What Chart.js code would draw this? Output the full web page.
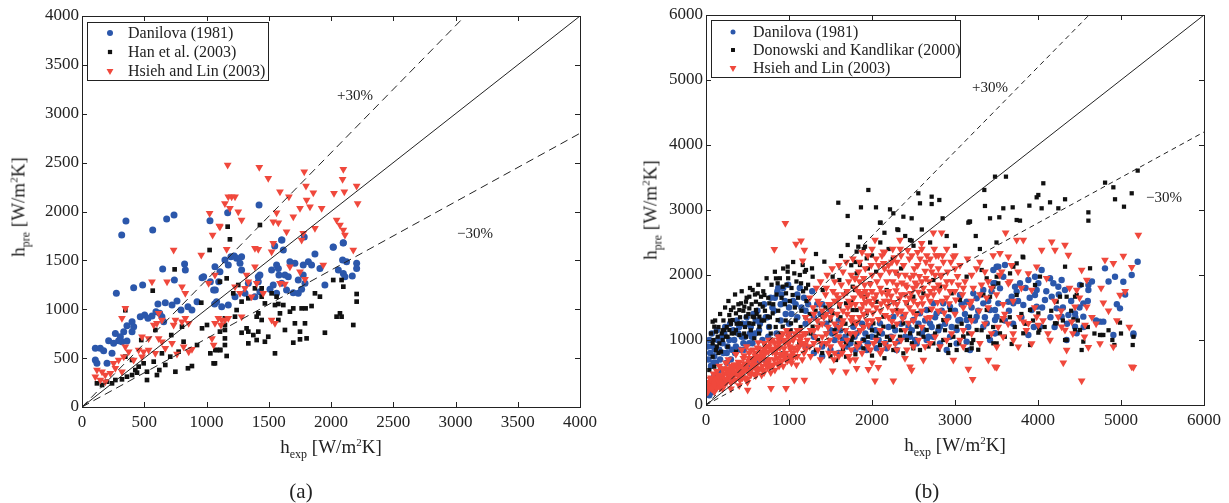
<!DOCTYPE html>
<html><head><meta charset="utf-8">
<script src="https://cdn.jsdelivr.net/npm/chart.js@4/dist/chart.umd.min.js"></script>
<style>
html,body{margin:0;padding:0;background:#fff;}
body{width:1229px;height:503px;position:relative;overflow:hidden;font-family:'Liberation Serif','Times New Roman',serif;color:#222;}
canvas{position:absolute;top:0;}
#ca{left:0;} #cb{left:620px;}
.t{position:absolute;white-space:nowrap;font-size:19px;line-height:1;transform:translate(-50%,-50%);}
.t.rot{transform:translate(-50%,-50%) rotate(-90deg);}
.t sub{font-size:12px;vertical-align:-5px;}
.t sup{font-size:11px;vertical-align:7px;}
.cap{position:absolute;font-size:21px;line-height:1;transform:translate(-50%,-50%);}
</style></head>
<body>
<canvas id="ca" width="610" height="440"></canvas>
<canvas id="cb" width="609" height="440"></canvas>
<div class="t rot" style="left:20px;top:207px">h<sub>pre</sub> [W/m<sup>2</sup>K]</div>
<div class="t" style="left:331px;top:448px">h<sub>exp</sub> [W/m<sup>2</sup>K]</div>
<div class="t rot" style="left:652px;top:210px">h<sub>pre</sub> [W/m<sup>2</sup>K]</div>
<div class="t" style="left:955px;top:446px">h<sub>exp</sub> [W/m<sup>2</sup>K]</div>
<div class="cap" style="left:301px;top:491px">(a)</div>
<div class="cap" style="left:927px;top:491px">(b)</div>
<script>
// ---------- Panel (a) data ----------
const labelsA = ['Danilova (1981)', 'Han et al. (2003)', 'Hsieh and Lin (2003)'];
const danilovaA = [[319,1760],[353,1903],[568,1811],[680,1923],[739,1964],[1028,1906],[1170,1988],[1422,2066],[1606,1708],[1785,1739],[2098,1678],[2018,1637],[1548,1647],
[824,1463],[830,1401],[648,1412],[742,1299],[964,1323],[1031,1282],[415,1221],[487,1248],[276,1163],[610,1054],[669,1067],[723,1043],[763,1084],[795,992],[851,1026],[883,992],[924,1078],[1065,1054],[1071,1197],[1098,1282],[468,924],[503,941],[530,907],[562,931],[594,975],[624,958],[642,924],[656,873],[402,873],[361,832],[415,822],[335,771],[402,771],[268,753],[308,719],[321,668],[294,678],[361,675],[214,678],[254,651],[107,600],[147,600],[174,576],[107,481],[120,447],[241,549],[201,447],[977,1333],[1057,1197],
[1196,1538],[1223,1545],[1242,1521],[1282,1538],[1269,1470],[1148,1504],[1175,1453],[1108,1384],[1068,1436],[1282,1401],[1416,1333],[1429,1350],[1416,1282],[1523,1401],[1563,1453],[1577,1418],[1603,1708],[1617,1606],[1670,1487],[1710,1470],[1777,1453],[1818,1487],[1844,1453],[1871,1565],[1911,1418],[1582,1350],[1630,1350],[1657,1333],[1536,1248],[1603,1265],[1643,1197],[1563,1163],[1510,1204],[1737,1299],[1777,1350],[1791,1265],[1697,1170],[1737,1163],[1764,1204],[1951,1248],[2018,1633],[2099,1681],[2093,1504],[2125,1487],[2059,1401],[2099,1367],[2112,1333],[2206,1470],[2206,1418],[2171,1340],[1429,1180],[1389,1129],[1336,1265],[1309,1163],[1229,1129],[1175,1043],[1122,1026],[1081,1078]];
const hanA = [[1025,1606],[744,1408],[568,1190],[348,990],[958,1067],[1004,839],[803,822],[717,736],[816,668],[924,634],[1071,583],[1031,549],[1111,583],[1057,447],[851,396],[883,419],[669,430],[621,378],[576,464],[522,361],[495,447],[455,413],[428,378],[442,351],[402,327],[361,310],[321,283],[268,276],[241,242],[201,259],[161,225],[120,242],[522,276],[602,327],[750,361],[709,515],[642,549],[776,566],[589,788],[476,685],[402,481],[348,515],[964,805],
[1170,1845],[1188,1715],[1429,1862],[1162,1316],[1108,1282],[1255,1248],[1215,1163],[1282,1078],[1336,1112],[1389,1214],[1443,1129],[1523,1163],[1577,1054],[1617,1043],[1697,1009],[1764,1009],[1796,1009],[1844,1033],[1871,1163],[1911,1129],[2018,1299],[2085,1299],[2099,1231],[2206,1156],[2206,1078],[2072,958],[2085,924],[2179,839],[2045,924],[1951,760],[1670,975],[1590,958],[1577,890],[1710,856],[1791,856],[1630,788],[1751,771],[1804,702],[1751,692],[1697,658],[1550,549],[1496,719],[1469,668],[1416,771],[1403,685],[1376,736],[1336,651],[1336,771],[1322,805],[1282,760],[1443,890],[1416,958],[1403,924],[1242,992],[1229,924],[1148,907],[1148,839],[1108,771],[1148,788],[1148,702],[1148,634],[1108,583],[1081,583],[1162,522],[1068,447],[1443,1214],[1550,1043],[1563,1129],[1469,1060]];
const hsiehA = [[1170,2476],[1424,2452],[1496,2339],[1785,2407],[2099,2431],[2093,2329],[2206,2261],[1590,2203],[1662,2152],[1799,2261],[1858,2193],[1804,2118],[1751,2032],[1831,2049],[1925,2032],[2024,2186],[2107,2203],[2214,2083],[1563,1988],[1175,2152],[1202,2152],[1229,2152],[1148,2083],[1188,2032],[1255,1998],[1282,1913],[1108,1845],[1536,1896],[1577,1886],[1643,1794],[1697,1947],[1777,1777],[1764,1708],[1871,1828],[2045,1913],[2072,1862],[2099,1811],[2112,1760],[2179,1606],[1162,1613],[1389,1623],[1416,1613],[1523,1589],[1536,1674],[1938,1453],[1389,1436],[1670,1436],[1751,1384],[1590,1265],[1630,1258],[1791,1306],[1403,1265],[1336,1282],[1309,1214],[1322,1350],[1229,1231],[1269,1163],[1068,1350],[1095,907],[1122,890],[1148,890],[1175,907],[1282,924],[1523,890],[1550,856],[1456,1163],[1362,1129],[1116,839],[1068,856],
[1025,1981],[1103,1852],[1049,1759],[736,1606],[958,1555],[562,1282],[683,1282],[803,1231],[830,1163],[348,1009],[321,907],[1017,1265],[616,958],[642,890],[750,890],[803,873],[830,907],[857,856],[736,839],[602,856],[576,839],[482,719],[535,702],[616,702],[642,668],[455,583],[375,566],[348,617],[415,481],[482,515],[535,583],[335,515],[294,481],[254,447],[268,396],[321,361],[228,344],[187,327],[161,361],[120,378],[107,310],[147,276],[187,259],[723,651],[857,566],[883,590],[816,617],[1044,702],[1057,634],[589,549],[669,600],[763,542],[495,566]];
const ticksA = {min: 0, max: 4000, step: 500};

// ---------- Panel (b) data ----------
const labelsB = ['Danilova (1981)', 'Donowski and Kandlikar (2000)', 'Hsieh and Lin (2003)'];
const danilovaB = [[30,700],[50,800],[60,600],[80,900],[100,750],[120,650],[140,1000],[160,850],[180,550],[200,950],[220,1100],[250,800],[280,1000],[300,700],[330,1150],[360,900],[400,1200],[430,1050],[460,850],[500,1250],[530,1100],[560,950],[600,1300],[640,1150],[680,1000],[720,1350],[760,1200],[800,1500],[830,1650],[860,1750],[900,1550],[930,1800],[960,1400],[1000,1250],[1050,1600],[1100,1700],[1150,1500],[1200,1450],[1100,1350],[1000,1500],[900,1300],[850,1100],[750,1050],[650,1250],[550,1050],[450,950],[350,800],[250,650],[150,500],[100,450],[60,350],[30,250],[40,150],[80,200],[120,320],[200,400],[300,450],[400,550],[500,600],[600,650],[700,700],[900,1000],[1000,1100],[1200,1250],[1300,1350],[1400,1550],[1500,1450],[1300,1050],[1400,900],[1500,1150],[1600,1300],
[3602,2154],[3502,2128],[3482,1872],[3542,1795],[3723,1820],[3783,1872],[3743,1743],[3683,1666],[3643,1589],[3703,1564],[3823,1538],[3884,1923],[3964,1974],[4044,2077],[4004,1872],[3964,1692],[3924,1461],[3984,1513],[4024,1205],[3884,1077],[4145,1949],[4185,1872],[4245,1820],[4285,1923],[4325,1769],[4165,1666],[4225,1487],[4285,1359],[4366,1384],[4446,1410],[4546,1564],[4607,1769],[4607,1846],[4506,1846],[4345,1000],[4466,1103],[4446,1205],[4546,1359],[4747,1282],[4787,1282],[4807,2102],[4928,1974],[5028,1897],[5129,1999],[5201,2205],[4988,1487],[4908,1077],[5149,1077],[3984,1769],[4084,1615],[3582,1974],[3522,1564],[3482,1307],[3482,1103],[3482,1461],
[3060,1692],[3140,1589],[3261,1641],[3341,1564],[3422,1461],[3502,1359],[3482,1102],[3382,1256],[3261,1359],[3140,1307],[3020,1154],[2940,1051],[2940,1513],[2859,1564],[2779,1410],[2699,1256],[2619,1154],[2659,1000],[2538,948],[2458,1051],[2739,1051],[2819,948],[3020,948],[3140,974],[3181,846],[2900,846],[2297,846],[2177,872],[2056,872],[1936,846],[1896,1000],[1815,1102],[1775,1205],[1976,1205],[2096,1256],[2257,1359],[2378,1359],[2498,1307],[2578,1410],[2659,1461],[2739,1564],[3221,1718],[3341,1769],[3462,1872],[3522,2128],[3462,2077],[3060,1307],[2819,1205],[3341,1205],[3422,1000],
[1300,800],[1400,750],[1500,850],[1600,800],[1700,900],[1800,850],[1200,900],[1550,1000],[1650,1000],
[20,900],[40,1000],[70,1100],[90,650],[110,850],[130,1150],[170,700],[190,1050],[210,800],[230,1200],[260,900],[290,1250],[310,850],[340,1000],[370,1300],[390,1100],[410,850],[440,1250],[470,1050],[490,1350],[520,950],[540,1200],[570,1400],[590,1100],[620,1450],[660,1300],[700,1550],[740,1350],[780,1650],[820,1450],[870,1800],[910,1700],[950,1600],[990,1850],[1030,1400],[1080,1550],[1130,1800],[1180,1650],[1230,1550],[1280,1750],[1340,1550],[1380,1400],
[1450,1250],[1520,1100],[1580,1200],[1620,1150],[1680,1050],[1740,950],[1790,1050],[1850,900],[1880,1250],[1920,1100],[1950,950],[2000,1050],[2040,1150],[2080,1000],[2120,1100],[2160,950],[2200,1200],[2230,1050],[2280,1150],[2320,980],[2350,1250],[2400,1050],[2440,1200],[2480,1150],[2520,1000],[2560,1250],[2600,1100],[2640,1300],[2680,1050],[2720,1200],[2760,1350],[2800,1150],[2840,1450],[2880,1250],[2920,1350],[2960,1200],[3000,1450],[3040,1300],[3080,1550],[3120,1400],[3160,1200],[3200,1500],[3240,1300],[3280,1450],[3320,1700],[3360,1350],[3400,1600],[3440,1750],
[3600,1300],[3650,1450],[3700,1250],[3760,1600],[3800,1350],[3850,1800],[3900,1650],[3950,1200],[4050,1500],[4100,1750],[4150,1350],[4200,1200],[4250,1700],[4300,1500],[4350,1250],[4400,1600],[4450,1350],[4500,1500],[4550,1200],[4600,1600],[4650,1900],[4700,1300],[4850,1900],[4950,1550],[5050,1700],[5150,1100]];
const donowskiB = [[1956,3308],[1594,3112],[1707,2908],[1867,3041],[2048,3041],[2217,3010],[2104,2805],[2257,2949],[2305,2703],[2378,2897],[2478,2872],[2558,3257],[2578,3103],[2719,3205],[2719,3092],[2811,3154],[2851,2872],[3173,2821],[3353,3308],[3482,3513],[3614,3513],[3361,3062],[3422,2872],[3582,3026],[3743,2846],[1707,2462],[1855,2580],[1916,2436],[2458,2538],
[3534,2888],[3695,3041],[3783,2836],[3896,3067],[3984,3195],[4064,3411],[4004,3231],[4044,3026],[4145,3118],[4245,3026],[4326,3165],[4607,2964],[4607,2836],[4808,3421],[4908,3349],[4928,3165],[5036,3051],[5129,3257],[5201,3606],[3181,2821],[3815,2282],[4326,2128],[4024,1975],[4627,2103],[4526,1847],[4466,1693],[4426,1318],[4205,1257],[4016,1154],[4326,1000],[4506,1154],[4546,975],[4767,1077],[4896,1000],[4988,1267],[5141,923],[3683,939],[3462,949],[3823,1103],[3904,1462],[3743,1693],[3542,1103],[3201,949],[3101,1052],[3342,1693],[3462,1821],
[3823,2271],[3743,2179],[3964,1846],[4225,1590],[4265,1666],[4345,1666],[4446,1666],[4004,1410],[4225,1256],[4446,1154],[4747,1077],[4787,1077],[4920,923],[3904,923],[4345,1000],[4526,846],[4004,1113],[3502,948],[3522,1872],[3663,2025],[3703,2128],
[2317,2692],[2478,2528],[2096,2805],[1835,2436],[1815,2359],[3161,2805],[1815,2025],[1855,2154],[1936,2256],[1976,1872],[1795,1769],[1916,1666],[1755,1589],[1815,1461],[1936,1410],[2056,1589],[2177,1769],[2297,2025],[2137,1359],[2297,1461],[2418,1564],[2498,1666],[2619,1718],[2739,1923],[2819,1820],[2538,1410],[2699,1461],[2859,1307],[2940,1461],[3020,1205],[3100,1051],[3261,1154],[3181,1359],[3382,1461],[3422,1666],[3140,1974],[3382,1949],[3321,2077],[2799,1205],[2659,1154],[2458,1102],[2337,1051],[2217,1000],[2096,923],[1976,846],[1896,872],[1815,948],[1755,1000],[2257,846],[2378,795],[2498,872],[2578,846],[2739,948],[2859,1000],[2940,923],[3020,846],[3140,846],[3201,872],[2137,1205],[2016,1256],[1896,1205],[1775,1256],[2257,1205],[2378,1256],[2538,1205],[2960,1718],[3060,1615],[3502,1974],
[1626,2292],[1325,2323],[1426,2205],[1277,2102],[1205,2077],[1165,2154],[984,2128],[984,2051],[1064,2025],[843,1948],[863,1872],[924,1820],[964,1718],[1044,1692],[1145,1872],[1205,1795],[1285,1974],[1406,1769],[1526,1974],[1606,1923],[1687,1718],[1767,1820],[562,1769],[622,1718],[663,1666],[703,1692],[602,1589],[522,1666],[482,1589],[422,1564],[462,1513],[402,1461],[522,1487],[602,1461],[683,1513],[763,1564],[803,1410],[863,1307],[743,1359],[643,1359],[562,1359],[482,1359],[361,1410],[301,1461],[281,1384],[321,1307],[402,1256],[522,1256],[643,1205],[763,1205],[924,1205],[1024,1256],[80,1282],[100,1205],[120,1128],[141,1051],[80,948],[161,948],[221,1154],[241,1051],[201,1000],[281,1154],[341,1103],[402,1077],[482,1051],[582,1026],[261,897],[181,821],[80,743],[120,846],[100,590],[40,538],[361,821],[924,795],[1004,743],[1124,948],[1205,1103],[1285,1205],[1406,1359],[1526,1410],[1606,1513],[1687,1564],[1767,1461],[1325,846],[1446,948],[1606,1051],[1687,948],[1767,1051],[1566,692],[1687,743],[703,948],[803,1000],
[1400,800],[1500,750],[1800,780],[2000,760],[2150,720],[1350,1000],[1450,1100],[1550,1150],[1650,850],[1900,1000],[2050,1050],
[60,1100],[90,1000],[110,1300],[130,900],[150,1200],[170,1400],[190,1100],[210,1300],[230,1500],[250,1200],[270,1600],[290,1300],[310,1100],[330,1500],[350,1700],[370,1250],[390,1550],[410,1350],[430,1750],[450,1450],[470,1200],[490,1650],[510,1400],[530,1800],[550,1550],[570,1250],[590,1700],[610,1400],[630,1850],[650,1550],[670,1300],[690,1750],[710,1450],[730,1950],[750,1650],[770,1350],[790,1850],[810,1550],[830,2050],[850,1700],[870,1450],[890,1950],[910,1650],[930,2100],[950,1550],[970,1850],[990,1950],[1010,1600],[1030,1800],[1050,2200],[1070,1500],[1090,1900],[1110,1650],[1130,2000],[1150,1450],[1170,1750],[1190,2050],[1210,1600],[1230,1850],[1250,1400],
[150,800],[200,1150],[260,1050],[300,1250],[360,1150],[420,1250],[460,1100],[540,1150],[580,1350],[640,1100],[700,1300],[780,1100],[840,1200],[900,1100],[960,1300],[1020,1150],[1080,1300],[1140,1200],[1200,1350],[1260,1100],[1320,1450],[1380,1250],[1440,1500],[1500,1300],[1560,1600],[1620,1350],[1680,1250],
[1720,1100],[1850,1150],[1950,1050],[2000,1150],[2080,1100],[2180,1050],[2280,950],[2350,1150],[2420,1000],[2480,950],[2560,1100],[2620,1050],[2680,900],[2760,1100],[2800,850],[2880,1150],[2920,800],[2980,1050],[3050,950],[3080,1250],[3160,1100],[3220,1000],[3280,850],[3320,1150],[3400,1050],[3460,1200],[3560,1300],[3600,1050],[3660,1350],[3720,1200],[3800,1400],[3850,1250],[3940,1300],[4080,1200],[4160,1450],[4300,1300],[4400,1450],[4480,1300],[4600,1200],[4680,1100],[4850,1150],[5000,1100],[5150,1050],
[1800,2200],[1900,2400],[2000,2300],[2100,2500],[2200,2400],[2150,2650],[2400,2600],[2500,2450],[2600,2700],[2050,2050],[2250,2250],[2350,2100],[1950,2100],[1750,2150],[2700,2500],[2900,2600],[3000,2450],[3250,2600],[3300,2400],[3500,2500]];
const hsiehB = [[956,2795],[1084,2477],[1145,2528],[1185,2384],[823,2395],[1165,2220],[502,231],[783,256],[964,256],[1064,384],[1185,384],[1526,528],[1687,513],
[2036,374],[2257,374],[1956,549],[2076,579],[2398,718],[2458,590],[2478,538],[2619,692],[2980,692],[3161,554],[3213,395],[3402,692],[3502,579],[1815,564],[1735,692],[2739,2651],[2839,2651],[2337,2538],[2598,2487],[2137,2359],[2036,2538],
[3610,2651],[3743,2538],[3823,2538],[4044,2384],[4165,2513],[4205,2384],[4325,2461],[4366,2307],[4807,2231],[4908,2179],[5028,2292],[5129,2118],[5209,2615],[3542,2333],[3643,2282],[3984,2128],[3884,2025],[3562,2051],[3643,1872],[4104,1949],[4526,2077],[4587,1923],[4466,1769],[4446,1513],[4587,1513],[3984,1359],[3884,1256],[3823,1282],[4004,1231],[4245,1359],[4285,1205],[4325,1154],[4406,1282],[4567,1231],[4988,1692],[4787,1574],[3703,1000],[3763,897],[3924,948],[4145,1000],[4345,846],[4305,651],[4526,374],[4607,887],[4747,948],[4908,897],[5149,579],[3482,590],[3502,897],[3582,1333],[3924,1769],[5129,590],
[50,300],[80,250],[100,350],[120,420],[150,300],[180,380],[200,450],[230,330],[250,520],[280,400],[300,600],[320,480],[350,380],[380,550],[400,650],[420,470],[450,720],[480,560],[500,400],[520,800],[550,620],[580,480],[600,700],[620,880],[650,560],[680,760],[700,950],[720,640],[750,820],[780,500],[800,1000],[820,700],[850,900],[880,600],[900,1050],[920,780],[950,950],[980,680],[1000,1100],[1020,850],[1050,1000],[1080,750],[1100,1150],[1120,900],[1150,1050],[1180,800],[60,420],[90,480],[130,520],[160,600],[200,300],[240,650],[270,700],[300,340],[330,560],[360,780],[390,440],[430,850],[460,640],[490,900],[530,520],[560,720],[600,560],[640,860],[670,460],[710,800],[740,580],[770,960],[810,620],[840,780],[870,1050],[910,680],[940,870],[970,1150],[1010,760],[40,250],[70,350],[110,280],[140,460],[170,260],[210,560],[260,460],[290,520],[340,450],[370,620],[410,380],[440,560],[470,420],[510,680],[540,460],[570,850],[610,620],[660,680],[690,540],[730,900],[760,700],[790,860],[830,540],[860,720],[890,880],[930,600],[960,800],[990,960],[1030,650],[1060,880],[1090,620],[1130,980],[1160,700],[1190,920],
[100,200],[150,400],[250,350],[350,500],[450,500],[550,550],[650,750],[750,650],[850,850],[950,750],[1050,800],[1150,950],[200,250],[300,250],[400,300],[500,350],[600,450],[700,500],[800,600],[900,650],[1000,700],[1100,750],[1200,850],
[1200,1100],[1250,1300],[1300,950],[1350,1200],[1400,1450],[1450,1100],[1500,1350],[1550,1600],[1600,1200],[1650,1450],[1700,1750],[1750,1300],[1800,1550],[1850,1900],[1900,1400],[1950,1700],[2000,2000],[2050,1500],[2100,1800],[2150,2100],[2200,1600],[2250,1900],[2300,2200],[2350,1700],[2400,2000],[2450,1500],[2500,1800],[2550,2150],[2600,1650],[2650,1950],[2700,2250],[2750,1800],[2800,2100],[2850,1600],[2900,1900],[2950,2200],[3000,1750],[1300,1400],[1400,1050],[1500,900],[1600,1650],[1700,1000],[1800,1100],[1900,1200],[2000,1300],[2100,1150],[2200,1350],[2300,1250],[2400,1150],[2500,1300],[2600,1200],[2700,1350],[2800,1450],[2900,1300],[1350,1600],[1450,1800],[1550,1900],[1650,2050],[1750,2000],[1850,2200],[1950,2300],[2050,2250],[2150,2350],[2250,2400],[2350,2300],[2450,2250],[2550,2350],[2650,2200],[2750,2400],[2850,2300],[1250,900],[1350,850],[1450,950],[1550,800],[1650,900],[1750,850],[1850,950],[1950,900],[2050,1000],[2150,950],[2250,1050],[2350,1000],[1600,1050],[1700,1400],[1800,1800],[1900,1650],[2000,1550],[2100,1450],[2200,1750],[2300,1550],[2400,1700],[2500,1600],[2600,1450],[2700,1600],[1900,1950],[2000,1750],[2100,2000],[2200,2150],[2300,1850],[2400,1400],[2500,2000],[2600,1900],[2700,1750],[2800,1850],[2900,1650],[3000,2100],[3100,1800],[3200,2000],[3300,1700],[3400,1900],[3100,1500],[3200,1300],[3300,2200],[3400,1500],[3500,1700],[3600,1400],[3700,1600],[3800,1800],[3000,1400],[3100,1150],[3200,1600],[1200,1350],[1300,1150],[1400,1250],[1500,1550],[1450,1400],[1550,1250],[1650,1300],[1750,1550],[1850,1350],[1950,1450],[2050,1700],[2150,1600],[2250,1450],[2350,1450],[2450,1650],[2550,1550],
[2100,800],[2300,850],[2500,900],[2700,950],[2900,1000],[3100,900],[1800,700],[1600,750],[2000,650],
[1820,1280],[1870,1480],[1880,1720],[1930,1580],[1960,1230],[1980,1860],[2010,1420],[2030,1640],[2060,1900],[2080,1320],[2110,1560],[2120,1730],[2140,2180],[2160,1380],[2180,1900],[2190,1520],[2210,2050],[2230,1680],[2240,1290],[2260,1580],[2270,2270],[2290,1760],[2310,1420],[2320,2000],[2330,1640],[2360,1880],[2370,1330],[2380,2150],[2410,1580],[2420,1820],[2430,2380],[2440,1260],[2460,1960],[2470,1720],[2490,1440],[2510,2100],[2520,1880],[2530,1380],[2560,1740],[2570,1980],[2580,2250],[2610,1560],[2620,1800],[2640,2060],[2660,1340],[2670,1680],[2690,1900],[2710,2140],[2720,1480],[2740,1700],[2760,2000],[2770,2300],[2790,1580],[2810,1760],[2830,1980],[2860,2200],[2870,1420],[2880,1820],[2910,2050],[2930,1560],[2960,1900],[2980,2280],[3010,1620],[3030,1980],[3060,2150],[3090,1700],[3120,1900],[3150,2250],[3180,1550],[3220,1800],[3260,2100],[3290,1450],[3320,1850],[3360,2050],[3380,1650],[3440,1800],[3460,2300],[3540,2000],[3580,1550],[3660,1900],[3680,2150],[3760,2050],
[1220,1000],[1260,1150],[1290,1500],[1320,1050],[1340,1300],[1370,1550],[1390,950],[1420,1350],[1440,1700],[1470,1200],[1490,1000],[1510,1450],[1530,1750],[1560,1100],[1580,1400],[1610,1550],[1620,950],[1640,1250],[1660,1700],[1680,1150],[1710,1500],[1720,1900],[1740,1100],[1760,1350],[1780,1650],[1790,1950],[1810,1250],[1830,1750],[1840,2050],[1860,1150],[1890,1550],[1910,1850],[1920,2100],[1940,1300],[1970,1600],[1990,2150],
[1250,1650],[1330,1800],[1380,1900],[1460,2000],[1480,1550],[1520,2100],[1570,1700],[1600,2150],[1630,1850],[1690,2200],[1720,1600],[1770,2250],[1800,1950],[1860,1700],[1880,2350],[1920,1750],[2000,2400],[2080,2150],[2120,2300],[2180,1700],[2240,2200],[2280,2050],[2340,2400],[2400,1850],[2480,2300],[2540,1850],[2600,2400],[2660,2300],[2720,2050],[2800,2300],[2840,2000],[2900,2400],[2940,1750],[3000,2300],[3040,1850],
[1260,750],[1380,700],[1480,800],[1540,700],[1640,800],[1720,750],[1820,900],[1880,800],[1980,850],[2020,950],[2120,850],[2200,900],[2280,950],[2420,850],[2560,1000],[2640,900],[2760,1050],[2820,900],[2960,1100],[3060,1000],[3200,1100],[3300,950],[3360,1250],[3440,1100],[3520,1200],[3580,1050],[3640,1250],[3700,1100],[3780,1350],[3860,1150],[3960,1500],[4060,1300],[4120,1100],[4200,1600],[4280,1450],[4380,1800],[4420,1100],[4500,1650],[4560,1050],[4650,1350],[4700,1250],[4760,1800],[4850,1450],[4950,1300],[5050,1750],[5100,1200],
[20,200],[40,350],[60,280],[90,380],[110,320],[130,260],[160,420],[190,330],[220,480],[240,380],[260,560],[290,440],[310,380],[340,620],[360,500],[390,660],[410,560],[440,420],[460,760],[490,620],[510,500],[540,840],[570,600],[590,760],[620,520],[630,960],[660,820],[680,600],[700,860],[730,700],[760,1000],[770,580],[800,820],[830,960],[860,640],[880,1000],[900,760],[930,1100],[960,700],[990,1050],[1010,900],[1040,720],[1070,1100],[1100,850],[1130,1150],[1170,950],
[20,300],[50,400],[70,250],[100,300],[150,350],[180,450],[200,550],[230,400],[270,500],[320,540],[380,480],[420,600],[470,560],[520,720],[560,660],[600,800],[640,720],[700,760],[760,900],[820,860],[880,940],[940,1000],[1000,960],[1060,1040],[1120,1060],[1180,1100]];
const ticksB = {min: 0, max: 6000, step: 1000};

// reference lines: y = k * x
const lineFactors = [1, 1.3, 0.7];

// ---------- helpers ----------
const FONT = "'Liberation Serif','Times New Roman',serif";
Chart.defaults.font.family = FONT;
const COL = {blue: '#2b57ab', black: '#111111', red: '#f0483c'};
const toXY = arr => arr.map(p => ({x: p[0], y: p[1]}));

function drawMarker(ctx, style, color, x, y, r) {
  ctx.fillStyle = color;
  ctx.beginPath();
  if (style === 'circle') ctx.arc(x, y, r, 0, Math.PI * 2);
  else if (style === 'rect') ctx.rect(x - r * 0.707, y - r * 0.707, r * 1.414, r * 1.414);
  else { ctx.moveTo(x - r * 0.866, y - r * 0.5); ctx.lineTo(x + r * 0.866, y - r * 0.5); ctx.lineTo(x, y + r); ctx.closePath(); }
  ctx.fill();
}

const framePlugin = {
  id: 'frame',
  afterDatasetsDraw(chart, args, o) {
    const {ctx, chartArea: a, scales: {x, y}} = chart;
    ctx.save();
    ctx.strokeStyle = '#222';
    ctx.lineWidth = 1;
    ctx.strokeRect(Math.round(a.left) + 0.5, Math.round(a.top) + 0.5, Math.round(a.right - a.left), Math.round(a.bottom - a.top));
    const L = 5;
    ctx.beginPath();
    x.ticks.forEach(t => {
      const px = Math.round(x.getPixelForValue(t.value)) + 0.5;
      ctx.moveTo(px, a.bottom); ctx.lineTo(px, a.bottom - L);
      ctx.moveTo(px, a.top); ctx.lineTo(px, a.top + L);
    });
    y.ticks.forEach(t => {
      const py = Math.round(y.getPixelForValue(t.value)) + 0.5;
      ctx.moveTo(a.left, py); ctx.lineTo(a.left + L, py);
      ctx.moveTo(a.right, py); ctx.lineTo(a.right - L, py);
    });
    ctx.stroke();
    ctx.fillStyle = '#222';
    ctx.font = '15px ' + FONT;
    ctx.textAlign = 'center';
    ctx.textBaseline = 'middle';
    o.notes.forEach(n => ctx.fillText(n.text, x.getPixelForValue(n.x), y.getPixelForValue(n.y)));
    const lg = o.legend;
    ctx.fillStyle = '#fff';
    ctx.fillRect(lg.box[0], lg.box[1], lg.box[2], lg.box[3]);
    ctx.strokeStyle = '#222';
    ctx.strokeRect(lg.box[0] + 0.5, lg.box[1] + 0.5, lg.box[2], lg.box[3]);
    ctx.font = lg.fontSize + 'px ' + FONT;
    ctx.textAlign = 'left';
    lg.items.forEach((it, i) => {
      drawMarker(ctx, it.style, it.color, lg.markerX, lg.rows[i], it.r);
      ctx.fillStyle = '#222';
      ctx.fillText(it.text, lg.textX, lg.rows[i] + 1);
    });
    ctx.restore();
  }
};

function makeChart(canvasId, sets, tk, geom, legend, notes) {
  const datasets = [];
  lineFactors.forEach(k => {
    datasets.push({
      data: [{x: tk.min, y: tk.min * k}, {x: tk.max, y: tk.max * k}],
      showLine: true, borderColor: '#222', borderWidth: 1,
      borderDash: k === 1 ? [] : geom.dash, pointRadius: 0, order: 0
    });
  });
  sets.forEach(s => {
    datasets.push({
      label: s.label, data: toXY(s.data),
      pointStyle: s.style, pointRotation: s.style === 'triangle' ? 180 : 0,
      pointRadius: s.r, backgroundColor: s.color, borderColor: s.color, borderWidth: 0,
      showLine: false, order: s.order
    });
  });
  const tickFont = {size: 17, family: FONT};
  const fmt = v => String(v);
  return new Chart(document.getElementById(canvasId), {
    type: 'scatter',
    data: {datasets},
    plugins: [framePlugin],
    options: {
      responsive: false, animation: false, events: [],
      layout: {padding: {left: 0, top: geom.top, right: geom.right, bottom: 0}},
      scales: {
        x: {type: 'linear', min: tk.min, max: tk.max,
            ticks: {stepSize: tk.step, font: tickFont, color: '#222', padding: 5, maxRotation: 0, callback: fmt},
            grid: {display: false, drawTicks: false}, border: {display: false},
            afterFit(s) { s.height = geom.xH; }},
        y: {type: 'linear', min: tk.min, max: tk.max,
            ticks: {stepSize: tk.step, font: tickFont, color: '#222', padding: 3, callback: fmt},
            grid: {display: false, drawTicks: false}, border: {display: false},
            afterFit(s) { s.width = geom.yW; }}
      },
      plugins: {legend: {display: false}, tooltip: {enabled: false},
                frame: {legend, notes}}
    }
  });
}

makeChart('ca', [
  {label: labelsA[0], data: danilovaA, style: 'circle', r: 3.5, color: COL.blue, order: 3},
  {label: labelsA[1], data: hanA, style: 'rect', r: 3.3, color: COL.black, order: 2},
  {label: labelsA[2], data: hsiehA, style: 'triangle', r: 4.5, color: COL.red, order: 1}
], ticksA, {top: 16, right: 30, xH: 33, yW: 82, dash: [8, 5]},
{box: [87, 22, 181, 58], markerX: 110, textX: 128, rows: [33, 52, 71], fontSize: 16,
 items: [{text: labelsA[0], style: 'circle', color: COL.blue, r: 3},
         {text: labelsA[1], style: 'rect', color: COL.black, r: 3},
         {text: labelsA[2], style: 'triangle', color: COL.red, r: 4}]},
[{text: '+30%', x: 2193, y: 3182}, {text: '\u221230%', x: 3157, y: 1770}]);

makeChart('cb', [
  {label: labelsB[0], data: danilovaB, style: 'circle', r: 3.2, color: COL.blue, order: 3},
  {label: labelsB[1], data: donowskiB, style: 'rect', r: 3, color: COL.black, order: 2},
  {label: labelsB[2], data: hsiehB, style: 'triangle', r: 4.5, color: COL.red, order: 1}
], ticksB, {top: 15, right: 25, xH: 35, yW: 86, dash: [5, 4]},
{box: [91, 20, 249, 57], markerX: 113, textX: 133, rows: [32, 50, 68], fontSize: 16,
 items: [{text: labelsB[0], style: 'circle', color: COL.blue, r: 2.5},
         {text: labelsB[1], style: 'rect', color: COL.black, r: 2.8},
         {text: labelsB[2], style: 'triangle', color: COL.red, r: 4}]},
[{text: '+30%', x: 3422, y: 4877}, {text: '\u221230%', x: 5518, y: 3185}]);
</script>
</body></html>
